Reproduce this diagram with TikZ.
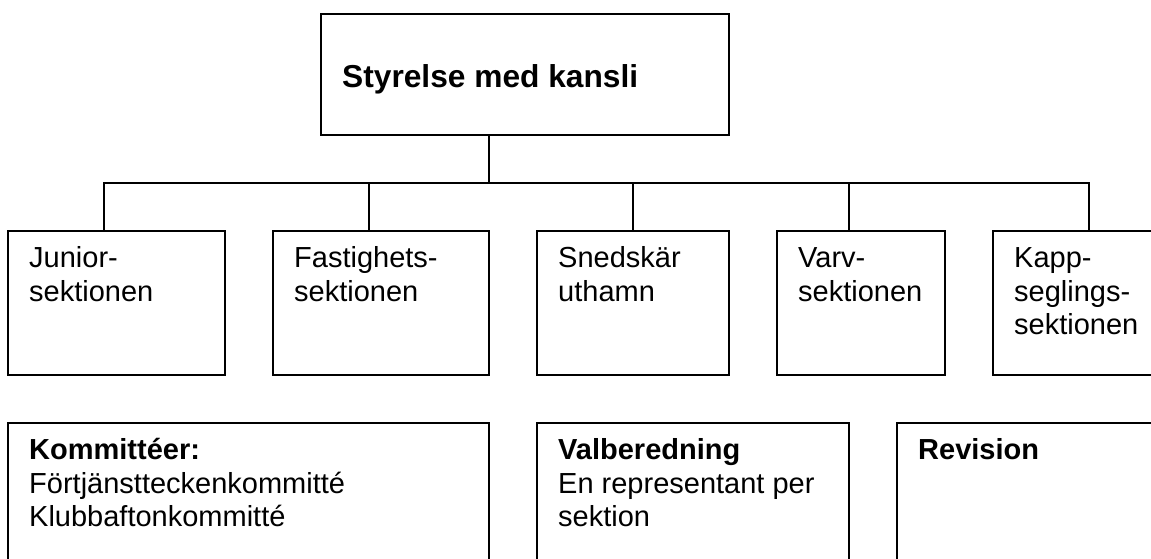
\documentclass[tikz,border=0pt]{standalone}
\usepackage{fontspec}
\setmainfont{Liberation Sans}
\usetikzlibrary{positioning}
\begin{document}
\begin{tikzpicture}[node distance=48pt]
            \tikzset{
                orgbox/.style = {rectangle, line width=1.8pt, draw=black, outer sep=0pt, minimum height=144pt},
                boxtext/.style = {anchor=north west, inner sep=0pt, align=left, font=\fontsize{29pt}{33.5pt}\selectfont},
                titletext/.style = {anchor=base west, inner sep=0pt, font=\fontsize{31.7pt}{36pt}\selectfont\bfseries},
                link/.style = {line width=1.8pt}
            }
            \useasboundingbox (0,0) rectangle (1151pt,-559pt);
            \clip (0,0) rectangle (1151pt,-559pt);

            \node (styrelse) [orgbox, anchor=north west, minimum width=408pt, minimum height=121pt] at (321pt,-14pt) {};
            \node (styrelselbl) [titletext] at ([shift={(21pt,-74pt)}]styrelse.north west) {Styrelse med kansli};

            \node (junior) [orgbox, anchor=north west, minimum width=217pt] at (8pt,-231pt) {};
            \node (fastighets) [orgbox, right=of junior, minimum width=216pt] {};
            \node (snedskar) [orgbox, right=of fastighets, minimum width=192pt] {};
            \node (varv) [orgbox, right=of snedskar, minimum width=168pt] {};
            \node (kapp) [orgbox, right=of varv, minimum width=192pt] {};

            \node (juniorlbl) [boxtext] at ([shift={(21pt,-13pt)}]junior.north west) {\strut Junior-\\sektionen};
            \node (fastighetslbl) [boxtext] at ([shift={(21pt,-13pt)}]fastighets.north west) {\strut Fastighets-\\sektionen};
            \node (snedskarlbl) [boxtext] at ([shift={(21pt,-13pt)}]snedskar.north west) {\strut Snedskär\\uthamn};
            \node (varvlbl) [boxtext] at ([shift={(21pt,-13pt)}]varv.north west) {\strut Varv-\\sektionen};
            \node (kapplbl) [boxtext] at ([shift={(21pt,-13pt)}]kapp.north west) {\strut Kapp-\\seglings-\\sektionen};

            \coordinate (hub) at ([xshift=168pt]styrelse.south west);
            \coordinate[below=of hub] (bus);
            \draw [link] (hub) -- (bus);
            \foreach \n/\dx in {junior/96, fastighets/96, snedskar/96, varv/72, kapp/96}
                \draw [link] ([xshift=\dx pt]\n.north west) |- (bus);

            \node (kommitteer) [orgbox, below right=48pt and 0pt of junior.south west, minimum width=481pt] {};
            \node (valberedning) [orgbox, right=of kommitteer, minimum width=312pt] {};
            \node (revision) [orgbox, right=of valberedning, minimum width=312pt] {};

            \node (kommitteerlbl) [boxtext] at ([shift={(21pt,-13pt)}]kommitteer.north west) {\strut\textbf{Kommittéer:}\\Förtjänstteckenkommitté\\Klubbaftonkommitté};
            \node (valberedninglbl) [boxtext] at ([shift={(21pt,-13pt)}]valberedning.north west) {\strut\textbf{Valberedning}\\En representant per\\sektion};
            \node (revisionlbl) [boxtext] at ([shift={(21pt,-13pt)}]revision.north west) {\strut\textbf{Revision}};

        \end{tikzpicture}
\end{document}
